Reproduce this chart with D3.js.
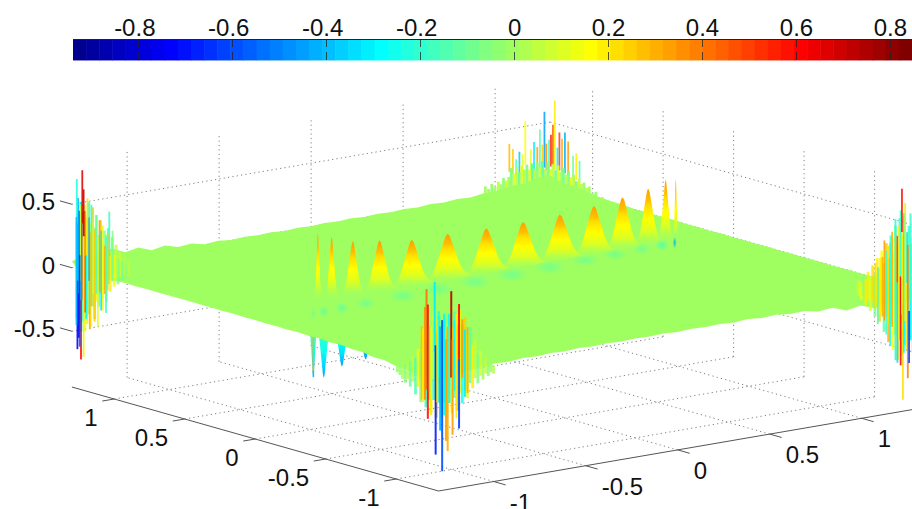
<!DOCTYPE html>
<html>
<head>
<meta charset="utf-8">
<script src="https://cdn.jsdelivr.net/npm/d3@7"></script>
<style>
html, body { margin: 0; padding: 0; background: #fff; overflow: hidden; }
text { font-family: "Liberation Sans", Arial, sans-serif; font-size: 24px; fill: #111; }
</style>
</head>
<body>
<div id="chart-area"></div>
<script>
/*
*    surface with colorbar on top, seen from a fixed 3d view
*/

var barTicks = [-0.8, -0.6, -0.4, -0.2, 0, 0.2, 0.4, 0.6, 0.8];
var xTicks = [-1, -0.5, 0, 0.5, 1];
var yTicks = [-1, -0.5, 0, 0.5, 1];
var zTicks = [-0.5, 0, 0.5];

// row of peaks on the plate
var bumpX = [-0.875, -0.80, -0.685, -0.54, -0.365, -0.17, 0.04, 0.24, 0.44, 0.625, 0.78, 0.92, 1.015, 1.07];
var bumpHeight = [0.54, 0.49, 0.43, 0.40, 0.36, 0.36, 0.35, 0.35, 0.36, 0.38, 0.41, 0.445, 0.49, 0.48];
var bumpWidth = [0.03, 0.05, 0.08, 0.115, 0.14, 0.155, 0.155, 0.155, 0.155, 0.145, 0.125, 0.095, 0.055, 0.02];
var bumpY = 0.11;

// row of dips in front of them
var dipX = [-1.03, -0.97, -0.866, -0.73, -0.517, -0.316, -0.104, 0.108, 0.324, 0.526, 0.697, 0.852, 0.967, 1.04];
var dipY = [-0.06, -0.056, -0.049, -0.04, -0.026, -0.012, 0.002, 0.016, 0.03, 0.044, 0.055, 0.066, 0.074, 0.078];
var dipDepth = [-0.5, -0.52, -0.46, -0.44, -0.4, -0.3, -0.3, -0.3, -0.3, -0.3, -0.25, -0.2, -0.15, -0.1];
var dipWidth = [0.016, 0.027, 0.035, 0.055, 0.08, 0.085, 0.088, 0.088, 0.085, 0.075, 0.062, 0.05, 0.035, 0.011];
var dipShade = [-0.08, -0.12, -0.12, -0.08, -0.08, -0.08, -0.08, -0.08, -0.08, -0.08, -0.08, -0.1, -0.15, -0.42];

// shape of one peak
var profileHeight = [0, 0.05, 0.15, 0.3, 0.5, 0.7, 0.85, 0.95, 1];
var profileWidth = [1, 0.72, 0.56, 0.43, 0.32, 0.21, 0.13, 0.07, 0];

// plate rim, height along each edge
var rimBackLeft = [0.05, 0.09, 0.06, 0.1, 0.05, 0.07, 0.03, 0.05, 0.02, 0.03, 0.006, 0.014, 0.003, 0.01, 0.004, 0.01, 0.002, 0.009, 0.003, 0.01, 0.004, 0.012, 0.005, 0.012, 0.006, 0.014, 0.008, 0.016, 0.01, 0.02, 0.014, 0.03, 0.03, 0.05, 0.05, 0.08];
var rimBackRight = [0.08, 0.05, 0.05, 0.03, 0.02, 0.012, 0.01, 0.003, 0.006, 0.002, 0.005, 0.001, 0.004, 0.001, 0.005, 0.001, 0.003, 0.001, 0.004, 0.001, 0.003, 0.001, 0.003, 0.001, 0.003, 0.001, 0.004, 0.002, 0.005, 0.002];
var rimFrontRight = [-0.03, -0.1, -0.06, -0.09, -0.05, -0.07, -0.03, -0.04, -0.016, -0.022, -0.008, -0.014, -0.004, -0.011, -0.004, -0.009, -0.004, -0.01, -0.003, -0.008, -0.004, -0.009, -0.003, -0.008, -0.004, -0.01, -0.004, -0.012, -0.006, -0.016, -0.012, -0.024, -0.03, -0.06];
var rimFrontLeft = [-0.1, -0.07, -0.08, -0.05, -0.05, -0.03, -0.03, -0.015, -0.016, -0.006, -0.01, -0.004, -0.008, -0.002, -0.006, -0.002, -0.005, -0.001, -0.004, -0.001, -0.003, -0.001, -0.003, -0.001, -0.002, -0.001, -0.003, -0.001, -0.004, -0.002, -0.006, -0.006, -0.014, -0.03];

// streaks at the corners: offset along the edge, top, bottom, colour value
var stripSpikes = [
	[0, -0.19, -0.46, 0.3], [0, -0.45, -0.5, -0.4]
];
var leftMass = [
	[0.178, 0.03, -0.03, 0], [0.172, 0.07, -0.05, 0.04], [0.166, 0.04, -0.07, -0.04], [0.16, 0.1, -0.05, 0.02],
	[0.154, 0.06, -0.09, -0.08], [0.148, 0.13, -0.07, 0.08], [0.142, 0.08, -0.12, -0.06], [0.136, 0.19, -0.08, 0.04],
	[0.13, 0.11, -0.14, 0.14], [0.124, 0.25, -0.1, -0.1], [0.118, 0.14, -0.18, 0.18], [0.112, 0.32, -0.12, -0.14],
	[0.106, 0.18, -0.26, 0.22], [0.1, 0.3, -0.16, -0.06], [0.094, 0.22, -0.33, 0.16], [0.088, 0.38, -0.2, 0.24],
	[0.082, 0.26, -0.3, -0.18], [0.076, 0.42, -0.26, 0.2], [0.07, 0.32, -0.4, -0.1], [0.064, 0.48, -0.3, 0.26],
	[0.058, 0.36, -0.46, 0.16], [0.052, 0.52, -0.36, -0.22], [0.046, 0.4, -0.44, 0.2], [0.04, 0.5, -0.5, 0.1],
	[0.034, 0.44, -0.42, -0.18], [0.028, 0.52, -0.5, -0.3], [0.022, 0.42, -0.44, -0.34], [0.016, 0.36, -0.4, -0.26]
];
var leftSpikes = [
	[0.125, 0.3, -0.03, -0.05], [0.115, 0.45, 0.1, -0.16],
	[0.11, 0.28, -0.17, 0.24], [0.105, 0.26, -0.35, -0.18], [0.1, 0.18, -0.2, 0.3], [0.095, 0.34, -0.25, 0.14],
	[0.09, 0.3, -0.33, -0.3], [0.085, 0.38, -0.18, 0.33], [0.08, 0.25, -0.46, 0.1], [0.075, 0.42, -0.2, -0.14],
	[0.07, 0.3, -0.42, 0.24], [0.065, 0.36, -0.2, 0.2], [0.06, 0.5, -0.3, -0.2], [0.055, 0.28, -0.48, 0.3],
	[0.052, 0.4, -0.1, -0.45], [0.048, 0.55, -0.38, 0.22], [0.044, 0.1, -0.4, -0.28], [0.04, 0.45, 0.1, 0.42],
	[0.04, 0.1, -0.35, 0.5], [0.036, 0.62, 0.25, 0.72], [0.036, 0.25, -0.7, 0.2], [0.032, 0.77, 0.35, 0.66],
	[0.03, 0.35, -0.25, 0.5], [0.028, -0.25, -0.72, 0.62], [0.025, 0.5, -0.1, 0.1], [0.024, 0.1, -0.62, -0.55],
	[0.021, 0.45, -0.55, -0.7], [0.019, 0.55, -0.2, -0.42], [0.017, -0.1, -0.64, -0.75], [0.015, 0.7, 0.35, -0.22],
	[0.014, 0.4, -0.45, -0.4]
];
var frontMass = [
	[-0.14, -0.01, -0.07, 0], [-0.132, 0.0, -0.09, -0.03], [-0.124, 0.01, -0.12, 0.03], [-0.116, 0.0, -0.15, -0.06],
	[-0.108, 0.03, -0.12, 0.02], [-0.1, 0.02, -0.18, -0.1], [-0.092, 0.06, -0.14, 0.06], [-0.084, 0.05, -0.24, -0.14],
	[-0.076, 0.12, -0.18, 0.14], [-0.068, 0.1, -0.3, -0.06], [-0.06, 0.24, -0.22, 0.22], [-0.052, 0.18, -0.34, -0.18],
	[-0.044, 0.3, -0.28, 0.28], [-0.036, 0.24, -0.38, 0.18], [-0.028, 0.34, -0.28, -0.24], [-0.02, 0.26, -0.42, 0.3],
	[-0.012, 0.38, -0.3, -0.3], [-0.004, 0.3, -0.42, 0.12], [0.004, 0.36, -0.3, -0.2], [0.012, 0.28, -0.42, 0.24],
	[0.02, 0.4, -0.3, -0.28], [0.028, 0.3, -0.38, 0.2], [0.036, 0.42, -0.26, -0.14], [0.044, 0.32, -0.36, 0.32],
	[0.052, 0.44, -0.22, 0.16], [0.06, 0.32, -0.3, -0.22], [0.068, 0.38, -0.2, 0.26], [0.076, 0.24, -0.26, 0.12],
	[0.084, 0.3, -0.14, -0.12], [0.092, 0.16, -0.18, 0.2], [0.1, 0.2, -0.1, 0.04], [0.108, 0.09, -0.14, -0.06],
	[0.116, 0.12, -0.08, 0.08], [0.124, 0.05, -0.11, 0], [0.132, 0.07, -0.06, 0.04], [0.14, 0.03, -0.08, -0.03],
	[0.148, 0.02, -0.05, 0], [0.156, 0.0, -0.06, 0.03]
];
var frontSpikes = [
	[-0.065, 0.3, -0.28, 0.28], [-0.06, 0.28, -0.3, 0.2], [-0.055, 0.45, -0.28, 0.36], [-0.05, 0.59, -0.2, 0.42],
	[-0.046, 0.47, -0.43, 0.58], [-0.04, 0.3, -0.22, -0.22], [-0.036, 0.3, -0.4, 0.2], [-0.03, 0.42, -0.12, 0.05],
	[-0.025, 0.65, 0.1, -0.32], [-0.022, 0.15, -0.71, -0.66], [-0.017, 0.36, -0.3, 0.22], [-0.012, 0.42, -0.1, -0.22],
	[-0.008, 0.3, -0.52, -0.42], [-0.002, 0.35, -0.84, -0.58], [0.004, 0.4, -0.4, -0.28], [0.01, 0.2, -0.6, 0.34],
	[0.015, 0.3, -0.68, 0.3], [0.02, 0.32, -0.3, -0.2], [0.026, 0.58, -0.1, 0.72], [0.03, 0.2, -0.55, 0.34],
	[0.036, 0.35, -0.2, -0.28], [0.042, 0.4, -0.42, 0.18], [0.05, 0.48, 0.05, 0.62], [0.05, 0.05, -0.5, -0.62],
	[0.06, 0.36, -0.1, 0.34], [0.068, 0.28, -0.25, -0.3], [0.076, 0.3, -0.22, 0.3]
];
var backMass = [
	[0.17, -0.11, -0.14, 0], [0.16, -0.08, -0.14, 0.03], [0.15, -0.09, -0.14, 0], [0.14, -0.04, -0.14, -0.03],
	[0.13, -0.05, -0.14, 0.02], [0.12, 0.0, -0.14, 0], [0.112, -0.01, -0.14, 0.06], [0.104, 0.03, -0.14, -0.04],
	[0.096, 0.02, -0.14, 0.02], [0.088, 0.06, -0.14, 0.08], [0.08, 0.04, -0.14, -0.06], [0.072, 0.09, -0.14, 0.02],
	[0.064, 0.07, -0.14, 0.1], [0.056, 0.12, -0.14, -0.05], [0.048, 0.09, -0.14, 0.04], [0.04, 0.14, -0.14, -0.08],
	[0.032, 0.11, -0.14, 0.02], [0.024, 0.16, -0.14, 0.1], [0.016, 0.12, -0.14, -0.1], [0.008, 0.17, -0.14, 0.04],
	[0, 0.13, -0.14, 0.12], [-0.008, 0.18, -0.14, -0.06], [-0.016, 0.13, -0.14, 0.02], [-0.024, 0.19, -0.14, -0.12],
	[-0.032, 0.14, -0.14, 0.08], [-0.04, 0.18, -0.14, -0.04], [-0.048, 0.13, -0.14, 0.02], [-0.056, 0.17, -0.14, -0.12],
	[-0.064, 0.12, -0.14, 0.1], [-0.072, 0.16, -0.14, -0.06], [-0.08, 0.12, -0.14, 0.02], [-0.088, 0.15, -0.14, 0.12],
	[-0.096, 0.1, -0.14, -0.08], [-0.104, 0.14, -0.14, 0.04], [-0.112, 0.09, -0.14, 0.1], [-0.12, 0.13, -0.14, -0.05],
	[-0.128, 0.06, -0.14, 0.02], [-0.136, 0.03, -0.14, 0.08], [-0.144, 0.05, -0.14, -0.03], [-0.152, 0.0, -0.14, 0],
	[-0.16, 0.02, -0.14, 0.04], [-0.17, -0.02, -0.14, 0], [-0.18, 0.0, -0.14, -0.03], [-0.19, -0.04, -0.14, 0],
	[-0.2, -0.02, -0.14, 0]
];
var backSpikes = [
	[0.09, 0.2, 0.03, -0.14], [0.08, 0.26, 0.05, 0.2], [0.07, 0.24, 0.05, -0.1],
	[0.055, 0.35, 0.08, 0.34], [0.045, 0.42, 0.1, -0.42], [0.036, 0.37, 0.1, 0.3], [0.028, 0.42, 0.12, 0.5],
	[0.022, 0.3, 0.1, -0.3], [0.014, 0.67, 0.12, 0.2], [0.008, 0.48, 0.15, 0.44], [0.002, 0.4, 0.15, 0.55],
	[-0.004, 0.36, 0.12, -0.2], [-0.012, 0.33, 0.12, 0.35], [-0.018, 0.58, 0.14, -0.45], [-0.024, 0.32, 0.1, 0.26],
	[-0.032, 0.44, 0.12, -0.12], [-0.04, 0.3, 0.12, 0.34], [-0.05, 0.34, 0.1, -0.3], [-0.06, 0.28, 0.08, 0.12],
	[-0.077, 0.5, 0.16, 0.16], [-0.085, 0.24, 0.06, 0.1], [-0.095, 0.26, 0.06, -0.36], [-0.105, 0.2, 0.06, -0.14],
	[-0.115, 0.28, 0.08, 0.25], [-0.126, 0.32, 0.1, 0.28]
];
var rightMass = [
	[0.185, 0.03, -0.04, 0.02], [0.178, 0.06, -0.06, 0.08], [0.171, 0.04, -0.09, 0.14], [0.164, 0.1, -0.06, -0.04],
	[0.157, 0.07, -0.13, 0.18], [0.15, 0.13, -0.09, 0.2], [0.143, 0.09, -0.18, 0.12], [0.136, 0.18, -0.11, 0.22],
	[0.129, 0.12, -0.22, -0.08], [0.122, 0.24, -0.14, 0.2], [0.115, 0.16, -0.26, 0.24], [0.108, 0.3, -0.18, 0.16],
	[0.101, 0.2, -0.34, -0.14], [0.094, 0.36, -0.22, 0.24], [0.087, 0.24, -0.42, 0.3], [0.08, 0.42, -0.28, -0.2],
	[0.073, 0.28, -0.48, 0.16], [0.066, 0.5, -0.36, -0.12], [0.059, 0.36, -0.56, 0.22], [0.052, 0.56, -0.4, -0.2],
	[0.045, 0.42, -0.52, 0.14], [0.038, 0.6, -0.44, -0.26], [0.031, 0.44, -0.48, 0.2], [0.024, 0.5, -0.4, -0.22],
	[0.017, 0.36, -0.4, -0.3], [0.01, 0.3, -0.3, -0.18]
];
var rightSpikes = [
	[0.128, 0.2, -0.16, 0.22], [0.12, 0.17, -0.28, -0.14],
	[0.113, 0.24, -0.2, 0.2], [0.106, 0.25, -0.22, 0.3], [0.1, 0.38, -0.25, 0.34], [0.094, 0.3, -0.36, -0.16],
	[0.088, 0.34, -0.28, 0.22], [0.082, 0.36, -0.45, -0.24], [0.076, 0.45, -0.3, 0.3], [0.07, 0.4, -0.35, 0.12],
	[0.066, 0.55, -0.56, -0.22], [0.06, 0.42, 0.05, 0.5], [0.06, 0.05, -0.58, -0.34], [0.055, 0.5, -0.4, 0.2],
	[0.05, 0.62, 0.1, -0.18], [0.05, 0.1, -0.6, 0.62], [0.046, 0.79, 0.45, 0.58], [0.046, 0.45, -0.2, 0.22],
	[0.043, -0.1, -0.87, 0.22], [0.04, 0.58, -0.5, -0.28], [0.036, 0.68, -0.25, 0.2], [0.03, 0.45, 0.05, -0.3],
	[0.028, 0.35, -0.7, 0.4], [0.024, -0.17, -0.58, -0.62], [0.02, 0.6, -0.1, -0.16], [0.014, 0.4, -0.5, 0.12],
	[0.008, 0.3, -0.3, -0.25]
];

var svg = d3.select("#chart-area").append("svg").attr("width", 912).attr("height", 509).style("display", "block");

// jet levels, same 64 steps as the bar
var jetR = d3.scaleLinear().domain([24, 40, 56, 72]).range([0, 1, 1, 0]).clamp(true);
var jetG = d3.scaleLinear().domain([8, 24, 40, 56]).range([0, 1, 1, 0]).clamp(true);
var jetB = d3.scaleLinear().domain([-8, 8, 24, 40]).range([0, 1, 1, 0]).clamp(true);
var levels = d3.range(1, 65);
var jet = levels.map(n => d3.rgb(jetR(n) * 255, jetG(n) * 255, jetB(n) * 255).formatHex());

var zMin = -0.939, zMax = 0.847;
var color = d3.scaleQuantize().domain([zMin, zMax]).range(jet);

// fixed view: each data axis has a horizontal and a vertical screen part
var frontH = 438.5, frontV = 491;
var xH = d3.scaleLinear().domain([-1.3, 1.3]).range([0, 478.4]);
var xV = d3.scaleLinear().domain([-1.3, 1.3]).range([0, -82.2]);
var yH = d3.scaleLinear().domain([-1.3, 1.3]).range([0, -366.6]);
var yV = d3.scaleLinear().domain([-1.3, 1.3]).range([0, -104]);
var zV = d3.scaleLinear().domain([zMin, zMax]).range([0, -226.8]);

function project(x, y, z) {
	return [frontH + xH(x) + yH(y), frontV + xV(x) + yV(y) + zV(z)];
}

function segment(g, rows, cls, stroke, dash, width) {
	g.append("g").attr("class", cls).selectAll("line").data(rows).join("line")
		.attr("x1", d => project(d[0], d[1], d[2])[0])
		.attr("y1", d => project(d[0], d[1], d[2])[1])
		.attr("x2", d => project(d[3], d[4], d[5])[0])
		.attr("y2", d => project(d[3], d[4], d[5])[1])
		.attr("stroke", stroke)
		.attr("stroke-width", width)
		.attr("stroke-dasharray", dash);
}

// colorbar
var barX = d3.scaleLinear().domain([zMin, zMax]).range([73, 912]);
var barTop = 39, barBottom = 60;
var cell = (zMax - zMin) / 64;
var bar = svg.append("g").attr("class", "colorbar");

bar.selectAll("rect.cell").data(jet).join("rect")
	.attr("class", "cell")
	.attr("x", (d, i) => barX(zMin + i * cell))
	.attr("y", barTop)
	.attr("width", barX(zMin + cell) - barX(zMin) + 0.5)
	.attr("height", barBottom - barTop)
	.attr("fill", d => d);

bar.selectAll("rect.fade").data(jet).join("rect")
	.attr("class", "fade")
	.attr("x", (d, i) => barX(zMin + i * cell))
	.attr("y", barBottom)
	.attr("width", barX(zMin + cell) - barX(zMin) + 0.5)
	.attr("height", 1)
	.attr("fill", d => d)
	.attr("opacity", 0.45);

bar.append("line")
	.attr("x1", 73).attr("x2", 912)
	.attr("y1", barTop + 0.5).attr("y2", barTop + 0.5)
	.attr("stroke", "#222");

bar.selectAll("line.up").data(barTicks).join("line")
	.attr("class", "up")
	.attr("x1", d => Math.round(barX(d)) + 0.5).attr("x2", d => Math.round(barX(d)) + 0.5)
	.attr("y1", barTop).attr("y2", barTop + 8)
	.attr("stroke", "#222").attr("stroke-opacity", 0.75);

bar.selectAll("line.down").data(barTicks).join("line")
	.attr("class", "down")
	.attr("x1", d => Math.round(barX(d)) + 0.5).attr("x2", d => Math.round(barX(d)) + 0.5)
	.attr("y1", barBottom - 8).attr("y2", barBottom)
	.attr("stroke", "#222").attr("stroke-opacity", 0.75);

var barAxis = d3.axisTop(barX).tickValues(barTicks).tickSize(0).tickPadding(0).tickFormat(d => String(d));
var barAxisGroup = svg.append("g").attr("transform", "translate(0, 36)").call(barAxis);
barAxisGroup.select(".domain").remove();
barAxisGroup.attr("font-family", null).attr("font-size", null);
barAxisGroup.selectAll("text").attr("dy", 0).attr("dx", d => d < 0 ? -4 : 0);

// grid on the floor and both walls
var grid = svg.append("g").attr("class", "grid");
var gridDash = "1.2 3.2";
var gridColor = "#808080";
var xLow = -1.3, xHigh = 1.3, yLow = -1.3, yHigh = 1.3;

segment(grid, xTicks.map(t => [t, yLow, zMin, t, yHigh, zMin]), "floor-x", gridColor, gridDash, 1);
segment(grid, yTicks.map(t => [xLow, t, zMin, xHigh, t, zMin]), "floor-y", gridColor, gridDash, 1);
segment(grid, xTicks.map(t => [t, yHigh, zMin, t, yHigh, zMax]), "wall-left-v", gridColor, gridDash, 1);
segment(grid, yTicks.map(t => [xHigh, t, zMin, xHigh, t, zMax]), "wall-right-v", gridColor, gridDash, 1);
segment(grid, zTicks.map(t => [xLow, yHigh, t, xHigh, yHigh, t]), "wall-left-h", gridColor, gridDash, 1);
segment(grid, zTicks.map(t => [xHigh, yHigh, t, xHigh, yLow, t]), "wall-right-h", gridColor, gridDash, 1);

// axis lines and ticks
var axisColor = "#555";
var axes = svg.append("g").attr("class", "axes");
segment(axes, [[xLow, yLow, zMin, xLow, yHigh, zMin], [xLow, yLow, zMin, xHigh, yLow, zMin]], "box", axisColor, null, 1);
segment(axes, xTicks.map(t => [t, yLow, zMin, t, yLow - 0.085, zMin]), "tick-x", axisColor, null, 1);
segment(axes, yTicks.map(t => [xLow, t, zMin, xLow - 0.065, t, zMin]), "tick-y", axisColor, null, 1);
segment(axes, zTicks.map(t => [xLow, yHigh, t, xLow, yHigh + 0.085, t]), "tick-z", axisColor, null, 1);

axes.selectAll("text.x").data(xTicks).join("text")
	.attr("class", "x")
	.attr("x", d => project(d, yLow, zMin)[0] + 16)
	.attr("y", d => project(d, yLow, zMin)[1] + 29)
	.text(d => String(d));

axes.selectAll("text.y").data(yTicks).join("text")
	.attr("class", "y")
	.attr("text-anchor", "end")
	.attr("x", d => project(xLow, d, zMin)[0] - 16.5)
	.attr("y", d => project(xLow, d, zMin)[1] + 27)
	.text(d => String(d));

axes.selectAll("text.z").data(zTicks).join("text")
	.attr("class", "z")
	.attr("text-anchor", "end")
	.attr("x", 55)
	.attr("y", d => project(xLow, yHigh, d)[1] + 6)
	.text(d => String(d));

// gradients, colour follows the fraction of a peak's height
var defs = svg.append("defs");
var bumpColorTop = 0.33;
var dipColorBottom = -0.44;
var stops = [0, 0.1, 0.2, 0.3, 0.4, 0.5, 0.6, 0.7, 0.8, 0.9, 1];

var bumpFill = defs.append("linearGradient").attr("id", "bumpFill")
	.attr("x1", 0).attr("y1", 1).attr("x2", 0).attr("y2", 0);
bumpFill.selectAll("stop").data(stops).join("stop")
	.attr("offset", d => d)
	.attr("stop-color", d => color(d * bumpColorTop))
	.attr("stop-opacity", d => d >= 0.3 ? 1 : d / 0.3);

var dipFill = defs.append("linearGradient").attr("id", "dipFill")
	.attr("x1", 0).attr("y1", 0).attr("x2", 0).attr("y2", 1);
dipFill.selectAll("stop").data(stops).join("stop")
	.attr("offset", d => d)
	.attr("stop-color", d => color(d * dipColorBottom));

dipShade.forEach((c, i) => {
	var blob = defs.append("radialGradient").attr("id", "blob" + i);
	blob.append("stop").attr("offset", 0).attr("stop-color", color(c)).attr("stop-opacity", 0.9);
	blob.append("stop").attr("offset", 0.5).attr("stop-color", color(c)).attr("stop-opacity", 0.45);
	blob.append("stop").attr("offset", 1).attr("stop-color", color(c)).attr("stop-opacity", 0);
});

// the reference is a soft, resampled picture
defs.append("filter").attr("id", "soft")
	.attr("x", "-5%").attr("y", "-5%").attr("width", "110%").attr("height", "110%")
	.append("feGaussianBlur").attr("stdDeviation", "0.45 0.3");

function outline(x, y, width, height) {
	var left = profileHeight.map((h, i) => project(x - width * profileWidth[i], y, height * h));
	var right = profileHeight.map((h, i) => project(x + width * profileWidth[i], y, height * h)).reverse();
	return left.concat(right.slice(1));
}

var peakLine = d3.line().curve(d3.curveCatmullRom);

// dir +1 walks from the corner to the right on screen, -1 to the left
function spikes(g, rows, baseX, baseY, dir, width, opacity) {
	g.append("g").selectAll("line").data(rows).join("line")
		.attr("x1", d => project(baseX + dir * d[0], baseY - dir * d[0], d[1])[0])
		.attr("y1", d => project(baseX + dir * d[0], baseY - dir * d[0], d[1])[1])
		.attr("x2", d => project(baseX + dir * d[0], baseY - dir * d[0], d[2])[0])
		.attr("y2", d => project(baseX + dir * d[0], baseY - dir * d[0], d[2])[1])
		.attr("stroke", d => color(d[3]))
		.attr("stroke-width", width)
		.attr("stroke-opacity", opacity);
}

var surface = svg.append("g").attr("class", "surface").attr("filter", "url(#soft)");

// dips hang under the plate, back corner stands behind it
surface.append("g").selectAll("path").data(dipX).join("path")
	.attr("d", (d, i) => peakLine(outline(d, dipY[i], Math.min(dipWidth[i] * 2.4, 0.1), dipDepth[i])) + "Z")
	.attr("fill", "url(#dipFill)");
spikes(surface, stripSpikes, dipX[0], dipY[0], 1, 1.6, 0.9);
spikes(surface, backSpikes, xHigh, yHigh, 1, 1.8, 0.85);
spikes(surface, backMass, xHigh, yHigh, 1, 2.8, 0.95);

// plate, walk round the rim
function rim(from, to, values) {
	return values.map((v, i) => {
		var t = i / values.length;
		return project(from[0] + (to[0] - from[0]) * t, from[1] + (to[1] - from[1]) * t, v);
	});
}
var cornerLeft = [xLow, yHigh], cornerBack = [xHigh, yHigh], cornerRight = [xHigh, yLow], cornerFront = [xLow, yLow];
var plate = rim(cornerLeft, cornerBack, rimBackLeft)
	.concat(rim(cornerBack, cornerRight, rimBackRight))
	.concat(rim(cornerRight, cornerFront, rimFrontRight))
	.concat(rim(cornerFront, cornerLeft, rimFrontLeft));

surface.append("path")
	.attr("d", d3.line()(plate) + "Z")
	.attr("fill", color(0));

// peaks back to front, then the shadows of the dips
surface.append("g").selectAll("path").data(bumpX.slice().reverse()).join("path")
	.attr("d", d => {
		var i = bumpX.indexOf(d);
		return peakLine(outline(d, bumpY, bumpWidth[i], bumpHeight[i])) + "Z";
	})
	.attr("fill", "url(#bumpFill)");

surface.append("g").selectAll("ellipse").data(dipX).join("ellipse")
	.attr("cx", (d, i) => project(d, dipY[i], 0)[0])
	.attr("cy", (d, i) => project(d, dipY[i], 0)[1])
	.attr("rx", (d, i) => xH(xLow + dipWidth[i]))
	.attr("ry", (d, i) => Math.max(xH(xLow + dipWidth[i]) * 0.45, 6))
	.attr("fill", (d, i) => "url(#blob" + i + ")");

spikes(surface, leftMass, xLow, yHigh, 1, 2.8, 0.8);
spikes(surface, leftSpikes, xLow, yHigh, 1, 1.8, 0.88);
spikes(surface, rightMass, xHigh, yLow, -1, 2.8, 0.8);
spikes(surface, rightSpikes, xHigh, yLow, -1, 1.8, 0.88);
spikes(surface, frontMass, xLow + 0.1, yLow + 0.1, 1, 2.8, 0.85);
spikes(surface, frontSpikes, xLow + 0.1, yLow + 0.1, 1, 2, 0.9);
</script>
</body>
</html>
